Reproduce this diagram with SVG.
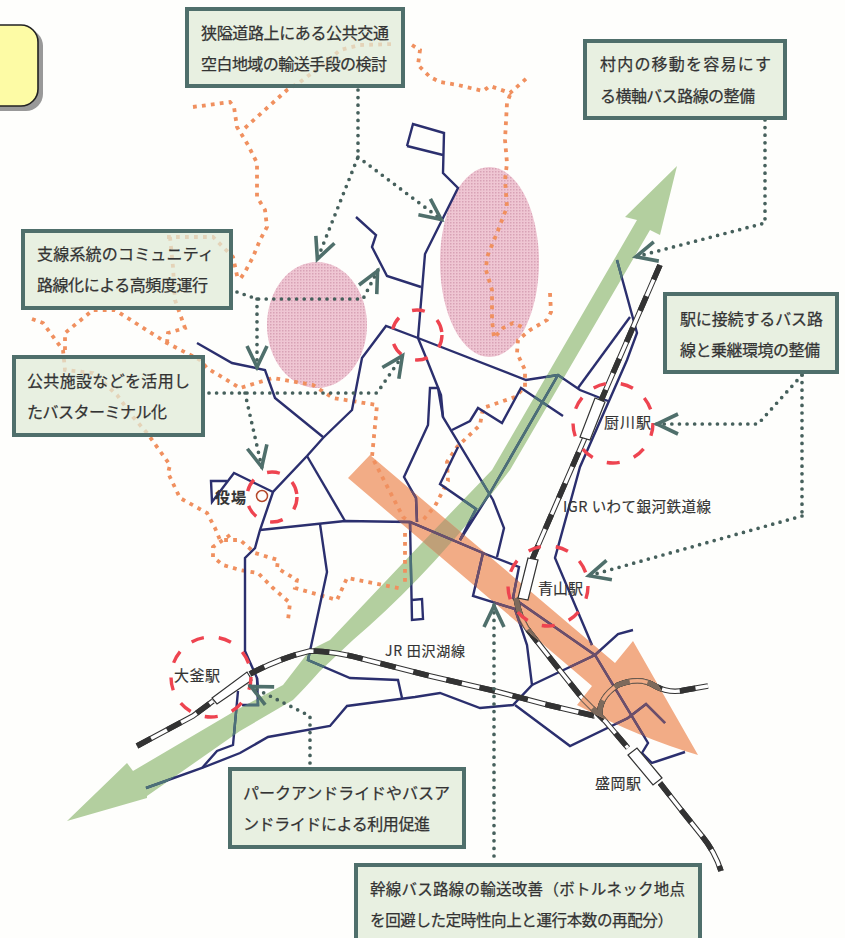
<svg xmlns="http://www.w3.org/2000/svg" width="845" height="938" viewBox="0 0 845 938">
<style>
.box{fill:#e0ebd8;fill-opacity:.74;stroke:#4f6f6b;stroke-width:4}
.t{font-family:"Noto Sans CJK JP","Noto Sans",sans-serif;font-size:16px;fill:#333;stroke:#333;stroke-width:.25;dominant-baseline:central}
.lab{font-family:"Noto Sans CJK JP","Noto Sans",sans-serif;font-size:15px;fill:#333;stroke:#333;stroke-width:.15;dominant-baseline:central}
.dots{fill:none;stroke:#f0905f;stroke-width:3.8;stroke-dasharray:3.8 5.2}
.red{fill:none;stroke:#ee4450;stroke-width:3.4;stroke-dasharray:13 15}
.conn{fill:none;stroke:#46605c;stroke-width:3.7;stroke-linecap:round;stroke-dasharray:0 7.6;marker-end:url(#chev)}
.conn2{fill:none;stroke:#46605c;stroke-width:3.7;stroke-linecap:round;stroke-dasharray:0 7.6}
.st{fill:#fff;stroke:#333;stroke-width:1.2}
</style>
<defs>
<marker id="chev" markerUnits="userSpaceOnUse" markerWidth="30" markerHeight="30" refX="25" refY="15" orient="auto">
<path d="M3,5 L24,15 L3,25" fill="none" stroke="#4f6f6b" stroke-width="3.6"/>
</marker>
<pattern id="pk" width="3" height="3" patternUnits="userSpaceOnUse">
<rect width="3" height="3" fill="#efc6d3"/><rect width="1.5" height="1.5" fill="#d8a2b6"/>
</pattern>
<path id="orangeShape" d="M370,455 L615,663 L633,641 L698,755 Q640,738 577,705 L592,686 L348,478 Z"/>
<path id="greenShape" d="M677,166 L660,235 L650,230 L510,470 Q435,570 353,640 L320,671 Q305,688 293,700 L240,731 L147,796 L147,798 L67,821 L127,763 L133,771 L240,708 L283,685 L310,650 L330,640 L420,545 L492,470 L637,220 L625,217 Z"/>
<clipPath id="cO"><use href="#orangeShape"/></clipPath>
<clipPath id="cG"><use href="#greenShape"/></clipPath>
<g id="routes" fill="none" stroke-width="2.4" stroke-linejoin="miter">
<path d="M407,146 L413,124 L444,133 L443,173 L458,188 L425,254 L418,338 L427,360 L441,395 L443,417 L493,500 L504,528 L497,557"/>
<path d="M407,146 L443,155"/>
<path d="M356,217 L376,235 L372,247 L387,276 L421,287"/>
<path d="M608,401 L580,390 L558,375 L526,380 L418,338 L386,326 L362,358 L352,410 L323,438 L307,456 L273,492 L260,530 L255,548 L245,558 L245,651 L257,678 L258,688"/>
<path d="M197,343 L232,363 L265,370 L275,398 L323,437"/>
<path d="M273,492 L234,473 L212,502 L211,481 L227,481"/>
<path d="M260,530 L345,521 L410,522 L483,553 L519,567 L513,598 L595,655 L648,743 L642,753 L652,763 L685,752"/>
<path d="M307,456 L345,521"/>
<path d="M320,524 L327,572 L310,651 L308,660 L350,678 L398,680 L402,698"/>
<path d="M410,522 L412,620 L423,619 L422,599 L412,600"/>
<path d="M417,522 L416,498 L404,477 L428,425 L430,388 L438,388 L443,417"/>
<path d="M452,430 L470,421 L478,408 L502,423 L521,388 L563,416"/>
<path d="M458,447 L440,484 L476,509 L460,540"/>
<path d="M558,375 L490,493 L460,540"/>
<path d="M483,553 L473,596 L515,609 L527,645 L532,685 L513,705 L480,708 L440,693 L415,697 L347,706 L330,726 L268,737 L240,753 L202,768 L146,788"/>
<path d="M532,685 L595,655 L618,634 L633,630"/>
<path d="M515,705 L570,746 L628,718 L646,704 L665,723"/>
<path d="M617,260 L637,333 L627,360 L580,467 L555,558 L592,645"/>
<path d="M630,317 L578,388"/>
<path d="M257,678 L258,705 L242,705 M238,691 L233,745 L217,751 L202,768"/>
</g>
<path id="rail1" d="M660,265 L537,548 L527,572"/>
<path id="rail1b" d="M516,598 Q520,622 532,635 L558,668 L582,698 L605,721 L628,748"/>
<path id="rail1c" d="M660,783 L682,811 L702,836 Q715,852 721,871"/>
<path id="rail2" d="M137,746 L193,716 L213,701 M250,674 Q280,658 310,651 Q335,651 367,660 L430,676 L495,691 L548,705 L595,716"/>
<path id="rail3" d="M600,716 Q598,698 618,685 Q640,676 655,686 Q670,694 685,690 L708,686"/>
</defs>
<rect width="845" height="938" fill="#fefefc"/>

<g id="areas">
<ellipse cx="317" cy="325" rx="50" ry="63" fill="url(#pk)"/>
<ellipse cx="489.5" cy="262" rx="49.5" ry="95" fill="url(#pk)"/>
<use href="#greenShape" fill="#b3cf9f"/>
<use href="#orangeShape" fill="#f2ac86"/>
<use href="#greenShape" fill="#bfa078" clip-path="url(#cO)"/>
</g>

<g id="boundaries" class="dots">
<path d="M193,107 L230,102 L234,107 L237,127 L248,145 L257,163 L257,197 L265,210 L267,227 L260,240 L253,257 L245,272 L238,282"/>
<path d="M245,128 L257,117 L287,90 L300,82 L323,65 L340,50 L360,45 L395,44 M412,45 L420,50 L418,65 L430,77 L440,82 L458,85 L483,91 L490,86 L510,93 L528,77"/>
<path d="M510,95 L507,103 L505,140 L507,163 L505,180 L507,207 L497,233 L487,257 L486,270 L492,290 L492,320 L494,338 L503,328 L513,323 L522,327"/>
<path d="M550,293 L551,312 L547,320 L530,330 L518,340 L517,353 L525,370 L525,387 L515,397 L483,408 L480,425 L457,447 L447,462 L448,481 L435,506 L423,520"/>
<path d="M32,319 L43,323 L63,350 L65,370 L93,373 L117,395 L133,417 L147,433 L170,465 L168,473 L180,498 L207,513 L215,528 L220,540 L240,540 L255,553 L278,560 L277,568 L297,580 L295,588 L337,600 L347,578 L403,589"/>
<path d="M230,535 L213,547 L213,557 L223,565 L240,570 L258,573 L273,588 L290,603 L288,620"/>
<path d="M405,533 L405,585"/>
<path d="M65,350 L65,333 L93,310 L115,310 L167,343 L200,360 L207,368 L240,388 L273,378 L313,385 L333,398 L377,405 L372,457 L403,517 L417,527"/>
<path d="M167,237 L213,237 L233,257 L238,280 M170,237 L173,267 L175,300 L185,328 L168,333 L167,343"/>
</g>

<g id="busRoutes">
<use href="#routes" stroke="#2b2f6e"/>
<use href="#routes" stroke="#4c7078" clip-path="url(#cG)"/>
<use href="#routes" stroke="#6d4f6b" clip-path="url(#cO)"/>
</g>

<g id="rails" fill="none">
<g stroke="#333" stroke-width="5.5"><use href="#rail1"/><use href="#rail1b"/><use href="#rail1c"/><use href="#rail2"/><use href="#rail3"/></g>
<g stroke="#fff" stroke-width="3.4"><use href="#rail1"/><use href="#rail1b"/><use href="#rail1c"/><use href="#rail2"/><use href="#rail3"/></g>
<g stroke="#333" stroke-width="5.5" stroke-dasharray="16 18"><use href="#rail1"/><use href="#rail1b"/><use href="#rail1c"/><use href="#rail2"/><use href="#rail3"/></g>
<g clip-path="url(#cO)">
<g stroke="#7d6a5c" stroke-width="5"><use href="#rail1b"/><use href="#rail2"/><use href="#rail3"/></g>
<g stroke="#f2ac86" stroke-width="3.4"><use href="#rail1b"/><use href="#rail2"/><use href="#rail3"/></g>
<g stroke="#7d6a5c" stroke-width="5" stroke-dasharray="16 18"><use href="#rail1b"/><use href="#rail2"/><use href="#rail3"/></g>
</g>
</g>

<g id="stations">
<polygon class="st" points="595,398 605,402 590,440 580,437"/>
<polygon class="st" points="528,558 538,560 528,600 518,598"/>
<polygon class="st" points="628,755 637,748 662,778 653,785"/>
<polygon class="st" points="212,698 247,672 252,680 217,704"/>
<circle cx="262" cy="496" r="5.5" fill="none" stroke="#b5482a" stroke-width="1.5"/>
</g>

<g id="focus">
<circle class="red" cx="417" cy="335" r="25"/>
<circle class="red" cx="613" cy="423" r="40"/>
<circle class="red" cx="548" cy="586" r="40"/>
<circle class="red" cx="211" cy="677" r="40"/>
<circle class="red" cx="272" cy="497" r="25"/>
</g>

<g id="connectors">
<path class="conn" d="M358,90 L358,157 L317,260"/>
<path class="conn" d="M358,157 L442,220"/>
<path class="conn" d="M237,292 L257,299 L363,299 L378,270"/>
<path class="conn" d="M257,299 L257,368"/>
<path class="conn" d="M209,393 L377,393 L403,355"/>
<path class="conn" d="M245,393 L262,468"/>
<path class="conn" d="M765,120 L765,223 L635,257"/>
<path class="conn2" d="M802,375 L802,516"/>
<path class="conn" d="M802,375 L758,424 L656,424"/>
<path class="conn" d="M802,516 L588,576"/>
<path class="conn" d="M310,763 L310,716 L250,686"/>
<path class="conn" d="M494,856 L494,605"/>
</g>

<g id="note-yellow">
<rect x="-30" y="29" width="73" height="82" rx="17" fill="#999"/>
<rect x="-30" y="25" width="68" height="81" rx="17" fill="#fdfba5" stroke="#222" stroke-width="1.6"/>
</g>

<g id="box-kyoai"><rect class="box" x="187" y="9" width="216" height="77"/>
<text class="t" x="201" y="32" textLength="188">狭隘道路上にある公共交通</text><text class="t" x="201" y="63" textLength="186">空白地域の輸送手段の検討</text></g>
<g id="box-sonnai"><rect class="box" x="585" y="41" width="200" height="77"/>
<text class="t" x="600" y="63" textLength="171">村内の移動を容易にす</text><text class="t" x="600" y="95" textLength="155">る横軸バス路線の整備</text></g>
<g id="box-shisen"><rect class="box" x="23" y="231" width="208" height="77"/>
<text class="t" x="37" y="253" textLength="177">支線系統のコミュニティ</text><text class="t" x="37" y="284" textLength="171">路線化による高頻度運行</text></g>
<g id="box-koukyo"><rect class="box" x="14" y="357" width="189" height="78"/>
<text class="t" x="27" y="380" textLength="163">公共施設などを活用し</text><text class="t" x="27" y="411" textLength="140">たバスターミナル化</text></g>
<g id="box-eki"><rect class="box" x="665" y="294" width="172" height="78"/>
<text class="t" x="680" y="318" textLength="143">駅に接続するバス路</text><text class="t" x="680" y="349" textLength="140">線と乗継環境の整備</text></g>
<g id="box-park"><rect class="box" x="230" y="769" width="234" height="78"/>
<text class="t" x="243" y="792" textLength="207">パークアンドライドやバスア</text><text class="t" x="243" y="823" textLength="187">ンドライドによる利用促進</text></g>
<g id="box-kansen"><rect class="box" x="356" y="865" width="344" height="79"/>
<text class="t" x="370" y="888" textLength="315" style="font-size:15.5px">幹線バス路線の輸送改善（ボトルネック地点</text><text class="t" x="370" y="919" textLength="303" style="font-size:15.5px">を回避した定時性向上と運行本数の再配分）</text></g>

<g id="labels">
<text class="lab" x="604" y="421" textLength="47">厨川駅</text>
<text class="lab" x="538" y="587" textLength="45">青山駅</text>
<text class="lab" x="174" y="674" textLength="46">大釜駅</text>
<text class="lab" x="215" y="496" font-weight="bold" textLength="31">役場</text>
<text class="lab" x="385" y="650" textLength="80" style="font-size:14px">JR 田沢湖線</text>
<text class="lab" x="563" y="505" textLength="148" style="font-size:14.5px">IGR いわて銀河鉄道線</text>
<text class="lab" x="595" y="782" textLength="46">盛岡駅</text>
</g>
</svg>
